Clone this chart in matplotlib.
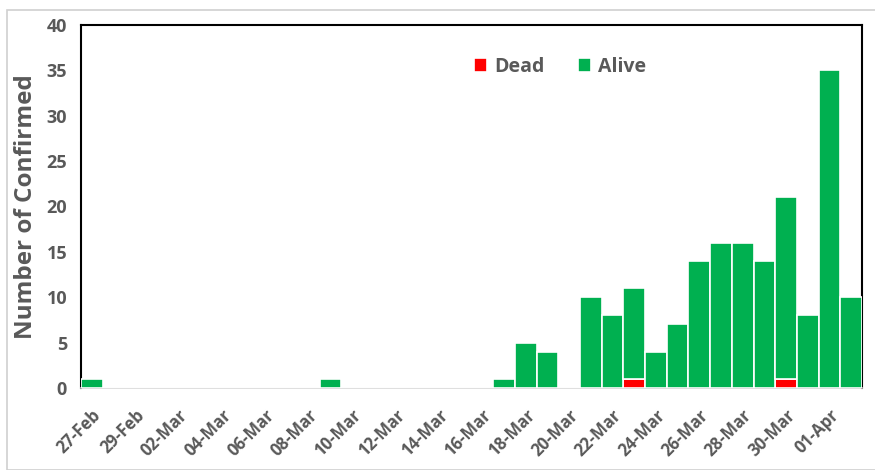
import matplotlib.pyplot as plt
from matplotlib.patches import Rectangle

# Daily confirmed cases, 27-Feb to 02-Apr
days = ["27-Feb", "28-Feb", "29-Feb",
        "01-Mar", "02-Mar", "03-Mar", "04-Mar", "05-Mar", "06-Mar", "07-Mar",
        "08-Mar", "09-Mar", "10-Mar", "11-Mar", "12-Mar", "13-Mar", "14-Mar",
        "15-Mar", "16-Mar", "17-Mar", "18-Mar", "19-Mar", "20-Mar", "21-Mar",
        "22-Mar", "23-Mar", "24-Mar", "25-Mar", "26-Mar", "27-Mar", "28-Mar",
        "29-Mar", "30-Mar", "31-Mar", "01-Apr", "02-Apr"]
dead = [0, 0, 0,
        0, 0, 0, 0, 0, 0, 0,
        0, 0, 0, 0, 0, 0, 0,
        0, 0, 0, 0, 0, 0, 0,
        0, 1, 0, 0, 0, 0, 0,
        0, 1, 0, 0, 0]
alive = [1, 0, 0,
         0, 0, 0, 0, 0, 0, 0,
         0, 1, 0, 0, 0, 0, 0,
         0, 0, 1, 5, 4, 0, 10,
         8, 10, 4, 7, 14, 16, 16,
         14, 20, 8, 35, 10]

grey = "#595959"
plt.rcParams['font.family'] = ['Open Sans', 'DejaVu Sans']

fig = plt.figure(figsize=(8.75, 4.7), dpi=100)
ax = fig.add_axes([81 / 875, 1 - 388 / 470, 781 / 875, 363 / 470])

# outer chart border
fig.patches.append(Rectangle((7 / 875, 0), 1, 1 - 10 / 470, transform=fig.transFigure,
                             fill=False, edgecolor="#d0d0d0", linewidth=1.2))

x = list(range(len(days)))
ax.bar(x, dead, width=1.0, color="#FF0000", edgecolor="white", linewidth=1.2,
       label="Dead", zorder=3)
ax.bar(x, alive, width=1.0, bottom=dead, color="#00B050", edgecolor="white",
       linewidth=1.2, label="Alive", zorder=3)

ax.set_xlim(-0.5, len(days) - 0.5)
ax.set_ylim(0, 40)
ax.set_yticks(range(0, 41, 5))
ax.set_xticks(x[::2])
ax.set_xticklabels(days[::2], rotation=45, ha="right", rotation_mode="anchor")
ax.tick_params(length=0, colors=grey)
ax.tick_params(axis="y", pad=10, labelsize=13)
ax.tick_params(axis="x", pad=13, labelsize=12)
for lab in ax.get_xticklabels() + ax.get_yticklabels():
    lab.set_fontweight("bold")

for s in ["top", "left", "right"]:
    ax.spines[s].set_color("black")
    ax.spines[s].set_linewidth(1.5)
ax.spines["bottom"].set_color("#d9d9d9")
ax.spines["bottom"].set_linewidth(1.2)

ax.set_ylabel("Number of Confirmed", fontsize=17.5, fontweight="bold", color=grey,
              labelpad=6)

ax.legend(loc="center", bbox_to_anchor=(479 / 781, (388 - 67) / 363), ncol=2,
          frameon=False, handlelength=0.7, handleheight=0.7, columnspacing=1.7,
          handletextpad=0.35, prop={"size": 14, "weight": "bold"}, labelcolor=grey,
          bbox_transform=ax.transAxes)

fig.savefig("out.png", dpi=100)
